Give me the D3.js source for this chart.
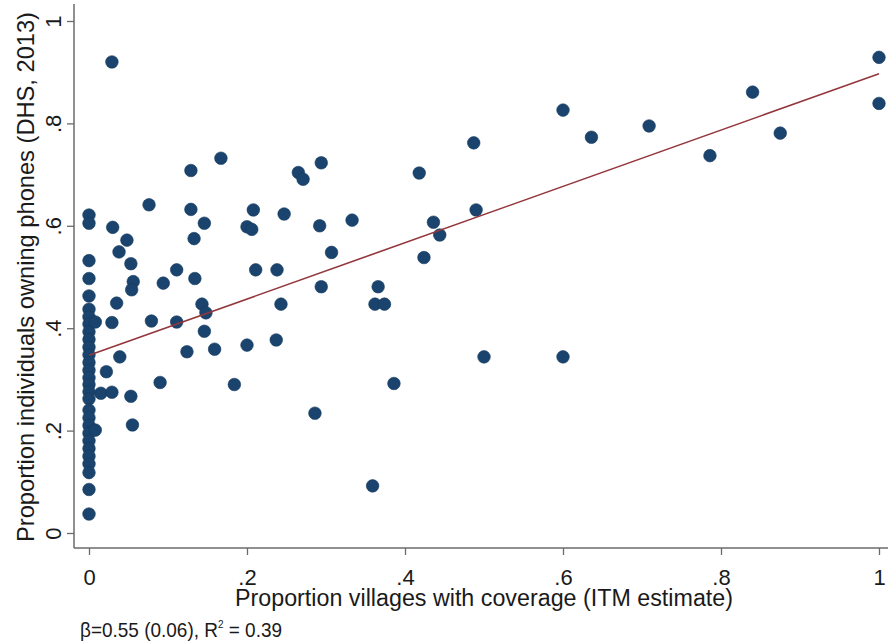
<!DOCTYPE html>
<html>
<head>
<meta charset="utf-8">
<script src="https://cdn.jsdelivr.net/npm/d3@7"></script>
<style>
html,body{margin:0;padding:0;background:#fff;}
svg{display:block;}
text{font-family:"Liberation Sans",Arial,sans-serif;fill:#1a1a1a;}
</style>
</head>
<body>
<svg id="chart" width="891" height="643"></svg>
<script>
// Proportion villages with coverage (ITM estimate)
const coverage = [
  0,0,0,0,0,0,0,0,0,0,0,0,0,0,0,0,0,0,0,0,0,0,0,0,0,0,0,0,0,
  0.029,0.030,0.048,0.038,0.053,0.056,0.054,0.035,0.029,0.008,0.039,0.022,0.015,0.029,0.053,0.055,0.008,
  0.076,0.079,0.090,0.094,0.111,0.111,0.124,0.129,0.129,0.133,0.134,0.143,0.148,0.146,0.146,0.159,0.167,
  0.184,0.200,0.206,0.200,0.208,0.211,0.237,0.238,0.243,0.247,0.265,0.271,0.286,0.292,0.294,0.294,
  0.307,0.333,0.359,0.362,0.374,0.366,0.386,0.418,0.424,0.436,0.444,0.487,0.490,0.500,
  0.600,0.600,0.636,0.709,0.786,0.840,0.875,1.000,1.000
];
// Proportion individuals owning phones (DHS, 2013)
const phones = [
  0.621,0.605,0.532,0.497,0.463,0.437,0.422,0.408,0.393,0.378,0.363,0.348,0.333,0.318,0.303,0.290,0.276,0.262,0.240,0.225,0.210,0.195,0.180,0.165,0.150,0.135,0.118,0.085,0.037,
  0.920,0.597,0.572,0.549,0.526,0.491,0.475,0.449,0.411,0.412,0.344,0.315,0.273,0.275,0.267,0.211,0.201,
  0.641,0.414,0.294,0.488,0.514,0.412,0.354,0.708,0.632,0.575,0.497,0.447,0.430,0.394,0.605,0.359,0.732,
  0.290,0.598,0.593,0.367,0.631,0.514,0.377,0.514,0.447,0.623,0.704,0.691,0.234,0.600,0.481,0.723,
  0.548,0.611,0.092,0.447,0.447,0.481,0.292,0.703,0.538,0.607,0.582,0.762,0.631,0.344,
  0.826,0.344,0.773,0.795,0.737,0.861,0.781,0.929,0.839
];
const fitIntercept = 0.347;
const fitSlope = 0.55;
const xTicks = [0, 0.2, 0.4, 0.6, 0.8, 1];
const yTicks = [0, 0.2, 0.4, 0.6, 0.8, 1];
const xTickLabels = ["0", ".2", ".4", ".6", ".8", "1"];
const yTickLabels = ["0", ".2", ".4", ".6", ".8", "1"];
const xTitle = "Proportion villages with coverage (ITM estimate)";
const yTitle = "Proportion individuals owning phones (DHS, 2013)";

const svg = d3.select("#chart");
const x = d3.scaleLinear().domain([0, 1]).range([89, 879]);
const y = d3.scaleLinear().domain([0, 1]).range([533, 21]);
const axisX = 74, axisY = 548;

// axes lines
svg.append("line").attr("x1", axisX).attr("x2", axisX).attr("y1", 4).attr("y2", axisY)
  .attr("stroke", "#6b6b6b").attr("stroke-width", 1.5);
svg.append("line").attr("x1", axisX).attr("x2", 888).attr("y1", axisY).attr("y2", axisY)
  .attr("stroke", "#6b6b6b").attr("stroke-width", 1.5);

// x axis
const gx = svg.append("g").attr("transform", `translate(0,${axisY})`)
  .call(d3.axisBottom(x).tickValues(xTicks).tickSize(7).tickPadding(14)
    .tickFormat((d, i) => xTickLabels[i]));
gx.select(".domain").remove();
gx.selectAll(".tick line").attr("stroke", "#6b6b6b").attr("stroke-width", 1.3);
gx.selectAll(".tick text").attr("font-size", 22).attr("fill", "#1a1a1a")
  .attr("font-family", "Liberation Sans, Arial, sans-serif");

// y axis
const gy = svg.append("g").attr("transform", `translate(${axisX},0)`)
  .call(d3.axisLeft(y).tickValues(yTicks).tickSize(7).tickPadding(0)
    .tickFormat((d, i) => yTickLabels[i]));
gy.select(".domain").remove();
gy.selectAll(".tick line").attr("stroke", "#6b6b6b").attr("stroke-width", 1.3);
gy.selectAll(".tick text").attr("font-size", 22).attr("fill", "#1a1a1a")
  .attr("font-family", "Liberation Sans, Arial, sans-serif")
  .attr("x", null).attr("dy", null)
  .attr("text-anchor", "middle")
  .attr("transform", "translate(-21,0) rotate(-90)")
  .attr("dominant-baseline", "central");

// points
const pts = coverage.map((c, i) => ({x: c, y: phones[i]}));
svg.append("g").selectAll("circle").data(pts).join("circle")
  .attr("cx", d => x(d.x)).attr("cy", d => y(d.y)).attr("r", 6.3)
  .attr("fill", "#1a446d").attr("stroke", "#163a5e").attr("stroke-width", 0.6);

// fitted line
svg.append("line")
  .attr("x1", x(0)).attr("y1", y(fitIntercept))
  .attr("x2", x(1)).attr("y2", y(fitIntercept + fitSlope))
  .attr("stroke", "#93373d").attr("stroke-width", 1.6);

// titles
svg.append("text").attr("x", 484).attr("y", 606).attr("text-anchor", "middle")
  .attr("font-size", 23).attr("textLength", 498).attr("lengthAdjust", "spacingAndGlyphs")
  .text(xTitle);
svg.append("text").attr("transform", "translate(34,277) rotate(-90)").attr("text-anchor", "middle")
  .attr("font-size", 24).attr("textLength", 530).attr("lengthAdjust", "spacingAndGlyphs")
  .text(yTitle);

// note
const note = svg.append("text").attr("x", 80).attr("y", 637).attr("font-size", 21)
  .attr("textLength", 202).attr("lengthAdjust", "spacingAndGlyphs");
note.append("tspan").text("β=0.55 (0.06), R");
note.append("tspan").attr("font-size", 11).attr("dy", -9).text("2");
note.append("tspan").attr("dy", 9).text(" = 0.39");
</script>
</body>
</html>
